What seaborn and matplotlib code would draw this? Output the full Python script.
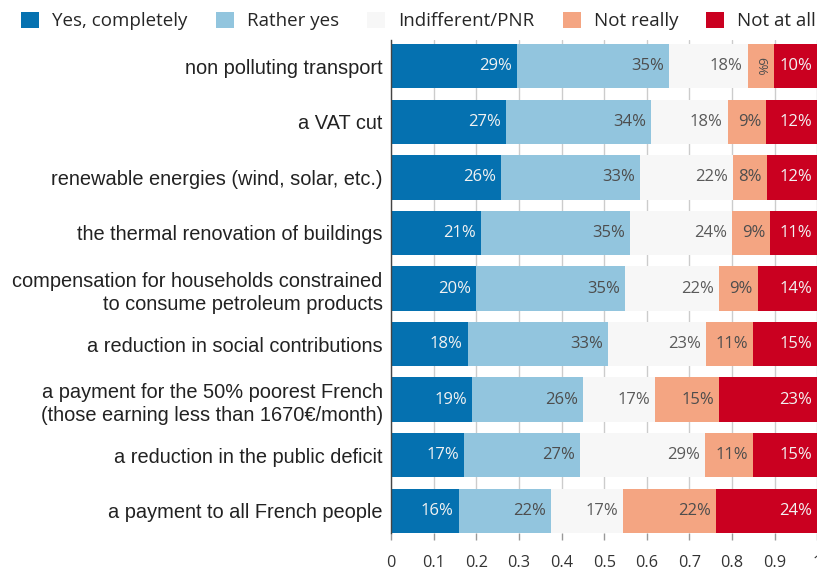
import numpy as np
import pandas as pd
import matplotlib
matplotlib.use("Agg")
import matplotlib.pyplot as plt
import seaborn as sns
from matplotlib.patches import Patch

categories = [
    "non polluting transport",
    "a VAT cut",
    "renewable energies (wind, solar, etc.)",
    "the thermal renovation of buildings",
    "compensation for households constrained\nto consume petroleum products",
    "a reduction in social contributions",
    "a payment for the 50% poorest French\n(those earning less than 1670€/month)",
    "a reduction in the public deficit",
    "a payment to all French people",
]
answers = ["Yes, completely", "Rather yes", "Indifferent/PNR", "Not really", "Not at all"]
yes_completely = [29, 27, 26, 21, 20, 18, 19, 17, 16]
rather_yes = [35, 34, 33, 35, 35, 33, 26, 27, 22]
indifferent = [18, 18, 22, 24, 22, 23, 17, 29, 17]
not_really = [6, 9, 8, 9, 9, 11, 15, 11, 22]
not_at_all = [10, 12, 12, 11, 14, 15, 23, 15, 24]
series = [yes_completely, rather_yes, indifferent, not_really, not_at_all]

colors = ["#0571b0", "#92c5de", "#f7f7f7", "#f4a582", "#ca0020"]
text_colors = ["#f2f2f2", "#4d4d4d", "#5a5a5a", "#4d4d4d", "#f2f2f2"]
xticks = [0, 0.1, 0.2, 0.3, 0.4, 0.5, 0.6, 0.7, 0.8, 0.9, 1.0]
xtick_labels = ["0", "0.1", "0.2", "0.3", "0.4", "0.5", "0.6", "0.7", "0.8", "0.9", "1"]

sns.set_style("white")
plt.rcParams["font.family"] = ["Open Sans", "DejaVu Sans"]

# shares normalised per row
vals = np.array(series, dtype=float)
shares = vals / vals.sum(axis=0, keepdims=True)
cum = np.cumsum(shares, axis=0)

fig = plt.figure(figsize=(8.17, 5.71), dpi=100)
ax = fig.add_axes([391 / 817, 1 - 533 / 571, (817.3 - 391) / 817, (533 - 40) / 571])

for i in reversed(range(len(answers))):
    df = pd.DataFrame({"question": categories, "value": cum[i]})
    sns.barplot(data=df, x="value", y="question", order=categories, orient="h",
                color=colors[i], saturation=1, width=0.8, linewidth=0, ax=ax)

for j in range(len(categories)):
    for i in range(len(answers)):
        v = shares[i, j]
        end = cum[i, j]
        label = f"{series[i][j]}%"
        if v < 0.07:
            ax.text(end - v / 2, j, label, rotation=-90, ha="center", va="center",
                    fontsize=9.5, color=text_colors[i])
        else:
            ax.annotate(label, xy=(end, j), xytext=(-5, 0), textcoords="offset pixels",
                        ha="right", va="center", fontsize=12, color=text_colors[i])

ax.set_xlim(0, 1)
ax.set_ylim(8.4, -0.472)
ax.set_xticks(xticks)
ax.set_xticklabels(xtick_labels)
ax.set_xlabel("")
ax.set_ylabel("")
ax.grid(axis="x", color="#cccccc", linewidth=1)
ax.set_axisbelow(True)
for s in ["top", "right", "bottom"]:
    ax.spines[s].set_visible(False)
ax.spines["left"].set_color("#444444")
ax.spines["left"].set_linewidth(1)
ax.tick_params(axis="x", length=5, width=1, color="#999999", pad=10.5,
               labelsize=11.7, labelcolor="#333333", bottom=True)
ax.tick_params(axis="y", length=0, pad=6)
for lab in ax.get_yticklabels():
    lab.set_fontfamily("Liberation Sans")
    lab.set_fontsize(14.4)
    lab.set_color("#222222")
    lab.set_linespacing(1.3)

handles = [Patch(facecolor=c, edgecolor="none", label=l) for c, l in zip(colors, answers)]
fig.legend(handles=handles, loc="center left", bbox_to_anchor=(21 / 817, 1 - 21 / 571),
           ncol=5, frameon=False, fontsize=13.5, handlelength=0.96, handleheight=0.96,
           handletextpad=0.7, columnspacing=1.5, borderaxespad=0, borderpad=0)

fig.savefig("out.png", dpi=100)
